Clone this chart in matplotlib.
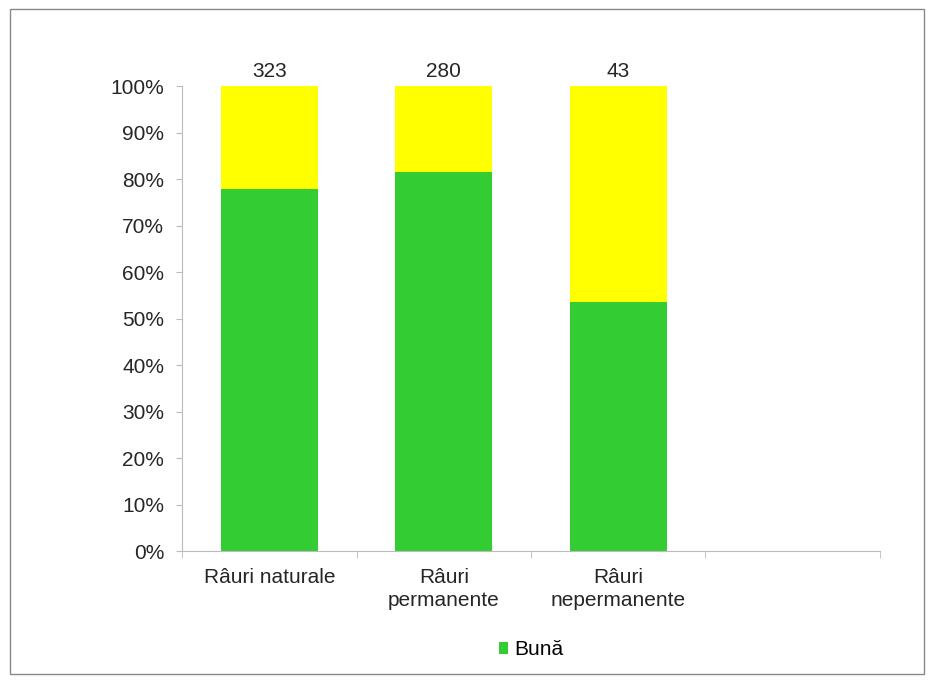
import matplotlib.pyplot as plt
from matplotlib.patches import Rectangle
from matplotlib.ticker import PercentFormatter

plt.rcParams['font.family'] = ['Liberation Sans', 'DejaVu Sans']

categories = ['Râuri naturale', 'Râuri\npermanente', 'Râuri\nnepermanente', '']
buna = [77.8, 81.5, 53.5]
totals = [323, 280, 43]
rest = [100 - v for v in buna]

fs = 15
txt = '#262626'

fig = plt.figure(figsize=(9.34, 6.84), dpi=100)
ax = fig.add_axes([0.195, 0.194, 0.747, 0.680])

x = list(range(len(buna)))
ax.bar(x, buna, width=0.556, color='#33cc33', label='Bună')
ax.bar(x, rest, width=0.556, bottom=buna, color='#ffff00')

for xi, t in zip(x, totals):
    ax.text(xi, 101.2, str(t), ha='center', va='bottom', fontsize=fs, color=txt)

ax.set_xlim(-0.5, 3.5)
ax.set_ylim(0, 100)
ax.set_yticks(range(0, 101, 10))
ax.yaxis.set_major_formatter(PercentFormatter(decimals=0))
ax.set_xticks([0, 1, 2, 3])
ax.set_xticklabels(categories, fontsize=fs, color=txt, linespacing=1.3)
ax.set_xticks([-0.5, 0.5, 1.5, 2.5, 3.5], minor=True)
ax.tick_params(axis='x', which='major', length=0, pad=12)
ax.tick_params(axis='x', which='minor', length=5, color='#bbbbbb')
ax.tick_params(axis='y', labelsize=fs, labelcolor=txt, length=4, color='#bbbbbb', pad=9)

for s in ['top', 'right']:
    ax.spines[s].set_visible(False)
ax.spines['left'].set_color('#bbbbbb')
ax.spines['bottom'].set_color('#bbbbbb')

ax.legend(loc='center', bbox_to_anchor=(0.5, -0.212), frameon=False, fontsize=fs,
          handlelength=0.45, handleheight=0.45, handletextpad=0.3)

fig.patches.append(Rectangle((0.011, 0.015), 0.978, 0.972, transform=fig.transFigure,
                             fill=False, edgecolor='#888888', linewidth=1))

fig.savefig('out.png', dpi=100)
